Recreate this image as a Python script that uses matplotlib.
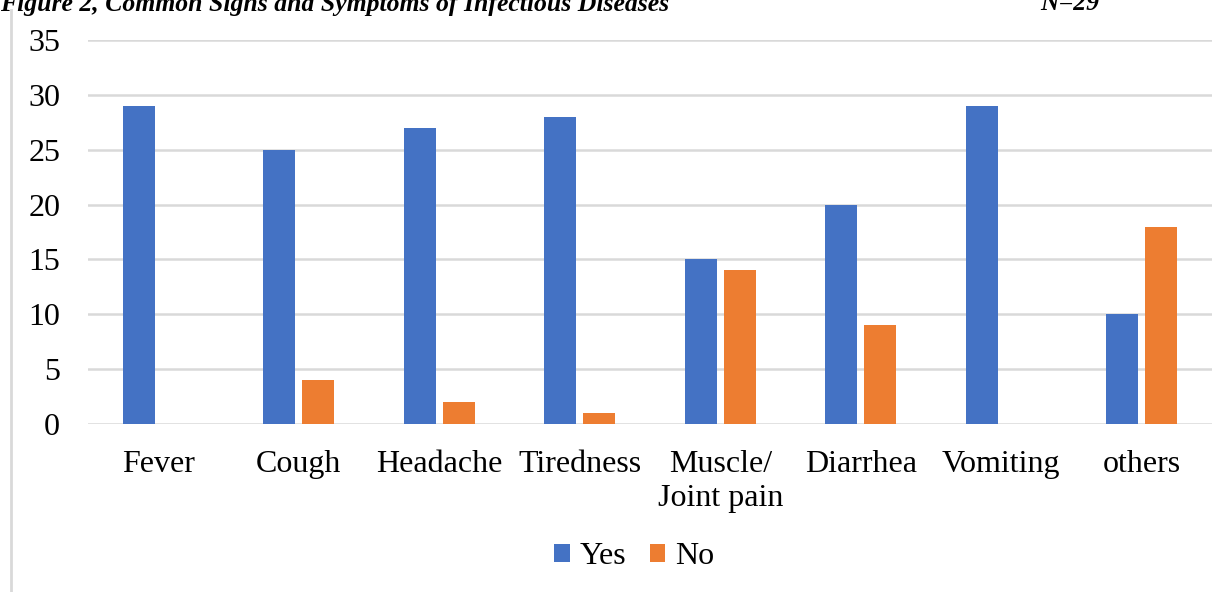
import matplotlib.pyplot as plt
import numpy as np

plt.rcParams['font.family'] = ['Liberation Serif', 'DejaVu Serif']

# symptoms and counts (N=29)
symptoms = ['Fever', 'Cough', 'Headache', 'Tiredness', 'Muscle/\nJoint pain',
            'Diarrhea', 'Vomiting', 'others']
yes_counts = [29, 25, 27, 28, 15, 20, 29, 10]
no_counts = [0, 4, 2, 1, 14, 9, 0, 18]

fig = plt.figure(figsize=(12.27, 5.92), dpi=100)
ax = fig.add_axes([88 / 1227, 1 - 424 / 592, (1212 - 88) / 1227, (424 - 40) / 592])

x = np.arange(len(symptoms))
w = 0.228
ax.bar(x - 0.139, yes_counts, w, color='#4472C4', label='Yes', zorder=3)
ax.bar(x + 0.139, no_counts, w, color='#ED7D31', label='No', zorder=3)

ax.set_xlim(-0.5, len(symptoms) - 0.5)
ax.set_ylim(0, 35)
ax.set_yticks(range(0, 36, 5))
ax.set_xticks(x)
ax.set_xticklabels(symptoms, fontsize=23, linespacing=1.25)
ax.tick_params(axis='y', labelsize=23, length=0, pad=20)
ax.tick_params(axis='x', length=0, pad=18.5)
ax.grid(axis='y', color='#D9D9D9', linewidth=1.8, zorder=0)
for s in ax.spines.values():
    s.set_visible(False)

ax.legend(loc='center', bbox_to_anchor=(0.486, (1 - 557 / 592 - (1 - 424 / 592)) / ((424 - 40) / 592)),
          ncol=2, frameon=False, fontsize=23, handlelength=0.48, handleheight=0.48,
          handletextpad=0.3, columnspacing=0.75)

# chart frame edge on the left
fig.add_artist(plt.Line2D([11 / 1227, 11 / 1227], [0, 1 - 10 / 592],
                          transform=fig.transFigure, color='#D9D9D9', linewidth=2))

# caption, partly cut off at the top edge
fig.text(0, 1 - 4 / 592, 'Figure 2, Common Signs and Symptoms of Infectious Diseases',
         fontsize=18.5, fontweight='bold', fontstyle='italic', va='center', ha='left')
fig.text(1040 / 1227, 1 - 4 / 592, 'N=29', fontsize=18.5, fontweight='bold',
         fontstyle='italic', va='center', ha='left')

fig.savefig('out.png', dpi=100)
